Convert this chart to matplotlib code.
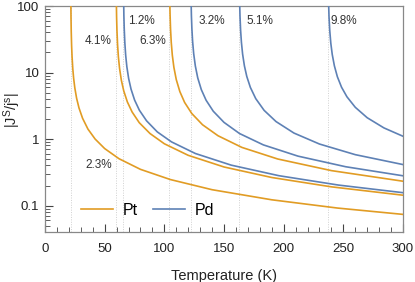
import matplotlib
matplotlib.use("Agg")
import matplotlib.pyplot as plt
from matplotlib.ticker import LogLocator, MultipleLocator, FixedLocator, NullFormatter

plt.rcParams['font.family'] = ['Liberation Sans', 'DejaVu Sans']
plt.rcParams['mathtext.default'] = 'regular'

# Pt curves (spin Hall angle 2.3 %, 4.1 %, 6.3 %)
pt1_T = [21.65, 21.8, 22.0, 22.3, 22.7, 23.3, 24, 25, 26.5, 28.5, 31.5, 36, 42, 50, 62, 80, 105, 140, 190, 245, 300]
pt1_y = [136.7, 68.3, 41.0, 25.6, 17.1, 11.4, 8.2, 5.86, 4.10, 2.93, 2.05, 1.41, 1.00, 0.719, 0.506, 0.350, 0.246, 0.173, 0.122, 0.0917, 0.0736]

pt2_T = [59.75, 60.0, 60.3, 60.8, 61.5, 62.5, 64, 66, 69, 73, 79, 88, 100, 120, 150, 190, 240, 300]
pt2_y = [137.6, 68.8, 43.0, 26.5, 17.2, 11.5, 7.64, 5.29, 3.62, 2.55, 1.76, 1.21, 0.849, 0.569, 0.380, 0.264, 0.191, 0.143]

pt3_T = [104.55, 104.8, 105.2, 105.8, 106.7, 108, 110, 113, 117, 123, 132, 145, 165, 195, 240, 300]
pt3_y = [130, 75.8, 45.5, 28.4, 18.2, 12.0, 7.84, 5.17, 3.55, 2.42, 1.64, 1.12, 0.748, 0.501, 0.335, 0.232]

# Pd curves (1.2 %, 3.2 %, 5.1 %, 9.8 %)
pd1_T = [65.85, 66.1, 66.4, 66.9, 67.6, 68.6, 70.1, 72.1, 75.1, 79.1, 85.1, 94.1, 106, 126, 156, 196, 246, 300]
pd1_y = [146, 73.2, 45.8, 28.2, 18.3, 12.2, 8.13, 5.63, 3.85, 2.71, 1.88, 1.28, 0.906, 0.606, 0.405, 0.281, 0.203, 0.156]

pd2_T = [122.4, 122.7, 123.1, 123.7, 124.6, 126, 128, 131, 135, 141, 150, 163, 183, 212, 252, 300]
pd2_y = [124.5, 71.1, 45.3, 29.3, 19.2, 12.5, 8.30, 5.53, 3.83, 2.62, 1.78, 1.21, 0.816, 0.553, 0.383, 0.280]

pd3_T = [163.05, 163.4, 163.9, 164.6, 165.6, 167.1, 169.1, 172.1, 176.6, 183.6, 193.6, 208.6, 230, 260, 300]
pd3_y = [126, 70.9, 43.6, 28.4, 18.9, 12.6, 8.72, 5.97, 4.05, 2.70, 1.83, 1.23, 0.841, 0.582, 0.413]

pd4_T = [237.55, 238, 238.6, 239.5, 240.7, 242.5, 245, 248.5, 253, 260, 270, 284, 300]
pd4_y = [126, 69.1, 43.2, 27.6, 18.7, 12.6, 8.64, 6.01, 4.32, 3.00, 2.09, 1.47, 1.10]

# asymptote temperatures (dotted guides)
asymptotes = [21.5, 59.5, 65.6, 104.2, 122, 162.6, 237]

# curve labels: text, T, value
labels = ['1.2%', '4.1%', '6.3%', '3.2%', '5.1%', '9.8%', '2.3%']
label_T = [81, 44.7, 90.5, 139.7, 180.2, 250, 44.7]
label_y = [60, 30.2, 30.2, 60, 60, 60, 0.413]

orange = '#E19C24'
blue = '#5E81B5'

fig = plt.figure(figsize=(4.15, 2.82), dpi=100)
ax = fig.add_axes([0.1084, 0.1773, 0.8627, 0.8014])

for x in asymptotes:
    ax.axvline(x, color='#d0d0d0', lw=0.7, ls=(0, (1, 1.5)), zorder=1)

lw = 1.2
ax.plot(pt1_T, pt1_y, color=orange, lw=lw, label='Pt', zorder=3)
ax.plot(pt2_T, pt2_y, color=orange, lw=lw, zorder=3)
ax.plot(pt3_T, pt3_y, color=orange, lw=lw, zorder=3)
ax.plot(pd1_T, pd1_y, color=blue, lw=lw, label='Pd', zorder=3)
ax.plot(pd2_T, pd2_y, color=blue, lw=lw, zorder=3)
ax.plot(pd3_T, pd3_y, color=blue, lw=lw, zorder=3)
ax.plot(pd4_T, pd4_y, color=blue, lw=lw, zorder=3)

for t, x, y in zip(labels, label_T, label_y):
    ax.text(x, y, t, ha='center', va='center', fontsize=8.5, color='#333333')

ax.set_yscale('log')
ax.set_xlim(0, 300)
ax.set_ylim(0.04, 100)

ax.xaxis.set_major_locator(MultipleLocator(50))
ax.xaxis.set_minor_locator(MultipleLocator(10))
ax.yaxis.set_major_locator(FixedLocator([0.1, 1, 10, 100]))
ax.yaxis.set_minor_locator(LogLocator(base=10, subs=range(2, 10)))
ax.yaxis.set_minor_formatter(NullFormatter())
ax.set_yticklabels(['0.1', '1', '10', '100'])

ax.tick_params(which='both', direction='in', color='#444444', labelsize=9.5, labelcolor='#222222',
               top=False, right=False)
ax.tick_params(which='major', length=6, width=0.8)
ax.tick_params(which='minor', length=3.5, width=0.6)
ax.tick_params(axis='x', which='major', pad=8)
ax.tick_params(axis='y', which='major', pad=4)

for s in ax.spines.values():
    s.set_color('#888888')
    s.set_linewidth(0.9)

ax.set_xlabel('Temperature (K)', fontsize=10.5, color='#222222', labelpad=10)
ax.set_ylabel(r'$|J^S/j^s|$', fontsize=10.5, color='#222222')
ax.yaxis.set_label_coords(-0.062, 0.54)

ax.legend(loc='lower left', bbox_to_anchor=(0.06, 0.0), ncol=2, frameon=False, fontsize=11.5,
          handlelength=2.0, columnspacing=1.0, handletextpad=0.6)

fig.savefig('out.png', dpi=100)
